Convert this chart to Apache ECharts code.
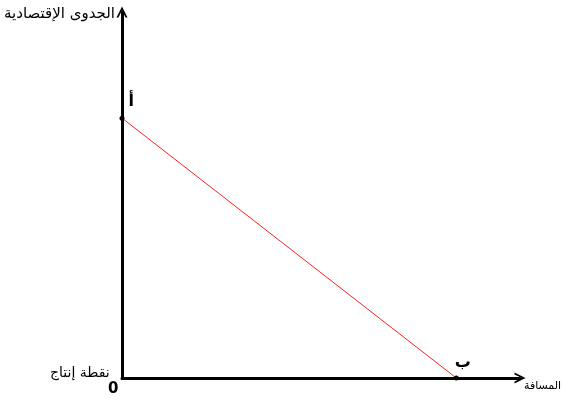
<!DOCTYPE html>
<html>
<head>
<meta charset="utf-8">
<script src="https://cdn.jsdelivr.net/npm/echarts@6/dist/echarts.min.js"></script>
<style>
  html, body { margin: 0; padding: 0; background: #fff; }
  #chart { width: 563px; height: 403px; }
</style>
</head>
<body>
<div id="chart"></div>
<script>
// points of the line: distance vs economic feasibility
const pointNames = ['أ', 'ب']
const distance = [0, 84]
const feasibility = [71, 0]
const xAxisName = 'المسافة'
const yAxisName = 'الجدوى الإقتصادية'
const originName = 'نقطة إنتاج'

const chart = echarts.init(document.getElementById('chart'))
const arabicFont = 'DejaVu Sans'
// open chevron arrow head, pointing up
const chevron = 'path://M0,10 L5,0 L10,10 L8.2,10 L5,3.4 L1.8,10 Z'

const axisCommon = {
  type: 'value',
  min: 0,
  max: 100,
  axisLine: {
    show: true,
    symbol: ['none', chevron],
    symbolSize: [14, 11],
    lineStyle: { color: '#000', width: 3 },
  },
  axisTick: { show: false },
  axisLabel: { show: false },
  splitLine: { show: false },
}

chart.setOption({
  animation: false,
  backgroundColor: '#fff',
  grid: { left: 122, right: 43, top: 12, bottom: 25, outerBoundsMode: 'none' },
  xAxis: Object.assign({}, axisCommon, {
    name: xAxisName,
    nameLocation: 'end',
    nameGap: 4,
    nameTextStyle: {
      fontFamily: arabicFont, fontSize: 11, color: '#000',
      verticalAlign: 'top', padding: [3, 0, 0, 0],
    },
  }),
  yAxis: Object.assign({}, axisCommon, {
    name: yAxisName,
    nameLocation: 'end',
    nameGap: -10,
    nameTextStyle: {
      fontFamily: arabicFont, fontSize: 15, color: '#000',
      align: 'right', padding: [0, 7, 0, 0],
    },
  }),
  graphic: [
    {
      type: 'text', left: 50, top: 366,
      style: { text: originName, font: '14px "DejaVu Sans"', fill: '#000' },
    },
    {
      type: 'text', left: 108, top: 382,
      style: { text: '0', font: 'bold 15px "DejaVu Sans"', fill: '#000' },
    },
  ],
  series: [
    {
      type: 'line',
      data: distance.map((d, i) => ({
        value: [d, feasibility[i]],
        name: pointNames[i],
        label: {
          position: i === 0 ? [9, -22] : [1, -21],
        },
      })),
      symbol: 'circle',
      symbolSize: 5,
      itemStyle: { color: '#000' },
      lineStyle: { color: '#ff2020', width: 1 },
      label: {
        show: true,
        formatter: p => p.name,
        fontFamily: arabicFont,
        fontSize: 16,
        fontWeight: 'bold',
        color: '#000',
      },
      labelLayout: { hideOverlap: false },
      z: 3,
    },
  ],
})
</script>
</body>
</html>
